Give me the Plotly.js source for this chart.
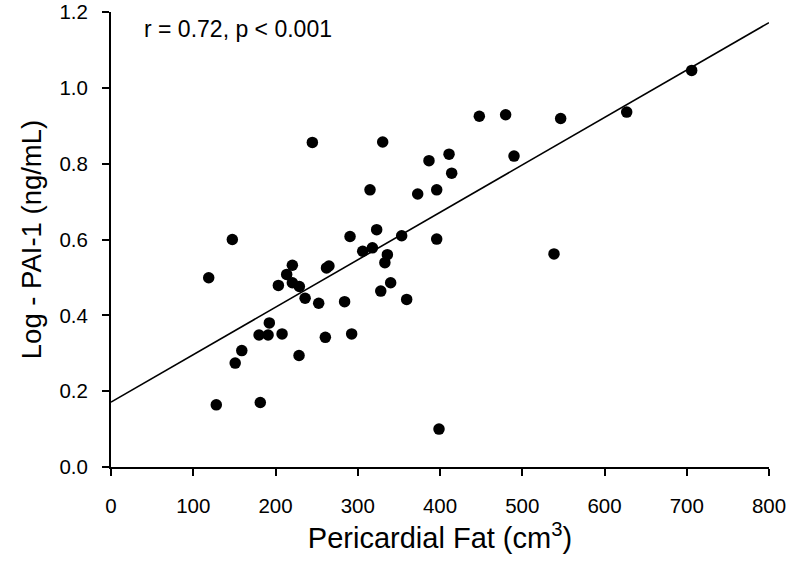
<!DOCTYPE html>
<html>
<head>
<meta charset="utf-8">
<script src="https://cdn.plot.ly/plotly-3.0.1.min.js"></script>
<style>html,body{margin:0;padding:0;background:#fff;}#chart{width:792px;height:570px;}</style>
</head>
<body>
<div id="chart"></div>
<script>
// Pericardial fat volume (cm3)
var fatVolume = [118.8, 128, 147.5, 151, 159, 180, 181.5, 191, 192.5, 203.5,
  208, 213.6, 220.5, 220.5, 228.6, 229, 236, 244.8, 252.5, 260.6,
  262, 265, 284, 290.6, 292.6, 306, 314.9, 317.8, 323, 328,
  330.3, 333, 336, 340, 353.4, 359.5, 372.9, 386.6, 396, 396,
  398.8, 411, 414.2, 447.8, 479.8, 490, 538.6, 546.7, 627, 706];
// Log PAI-1 (ng/mL)
var logPAI1 = [0.499, 0.164, 0.600, 0.274, 0.307, 0.348, 0.170, 0.348, 0.380, 0.479,
  0.351, 0.508, 0.532, 0.486, 0.294, 0.476, 0.445, 0.856, 0.432, 0.342,
  0.525, 0.530, 0.436, 0.608, 0.351, 0.569, 0.731, 0.578, 0.626, 0.464,
  0.857, 0.539, 0.560, 0.486, 0.610, 0.442, 0.720, 0.808, 0.731, 0.601,
  0.100, 0.825, 0.775, 0.925, 0.929, 0.820, 0.562, 0.919, 0.936, 1.046];
// Regression line end points
var fitX = [0, 800];
var fitY = [0.171, 1.172];
var xTicks = [0, 100, 200, 300, 400, 500, 600, 700, 800];
var yTicks = [0.0, 0.2, 0.4, 0.6, 0.8, 1.0, 1.2];
var statsText = 'r = 0.72, p < 0.001';

var fontFam = 'Arial, "Liberation Sans", sans-serif';

var traces = [
  {x: fitX, y: fitY, type: 'scatter', mode: 'lines', line: {color: '#000', width: 1.6}, hoverinfo: 'skip', cliponaxis: false},
  {x: fatVolume, y: logPAI1, type: 'scatter', mode: 'markers',
   marker: {symbol: 'circle', size: 11.5, color: '#000'}}
];

var layout = {
  width: 792, height: 570,
  margin: {l: 111, r: 23, t: 11.5, b: 103},
  paper_bgcolor: '#fff', plot_bgcolor: '#fff',
  showlegend: false,
  font: {family: fontFam, color: '#000'},
  xaxis: {
    range: [0, 800], tickvals: xTicks, ticktext: xTicks.map(String),
    showgrid: false, zeroline: false,
    showline: true, linecolor: '#000', linewidth: 2,
    ticks: 'outside', ticklen: 7, tickwidth: 2, tickcolor: '#000',
    tickfont: {size: 20.5, family: fontFam},
    ticklabelstandoff: 12, ticklabeloverflow: 'allow',
    title: {text: 'Pericardial Fat (cm<sup>3</sup>)', font: {size: 29, family: fontFam}, standoff: 12}
  },
  yaxis: {
    range: [0, 1.2], tickvals: yTicks, ticktext: yTicks.map(function(v){return v.toFixed(1);}),
    showgrid: false, zeroline: false,
    showline: true, linecolor: '#000', linewidth: 2,
    ticks: 'outside', ticklen: 7, tickwidth: 2, tickcolor: '#000',
    tickfont: {size: 20.5, family: fontFam},
    ticklabelstandoff: 10, ticklabeloverflow: 'allow',
    title: {text: 'Log - PAI-1 (ng/mL)', font: {size: 27.5, family: fontFam}, standoff: 10}
  },
  annotations: [{
    text: statsText, xref: 'paper', yref: 'paper', x: 0.047, y: 0.962,
    xanchor: 'left', yanchor: 'middle', showarrow: false,
    font: {size: 23, family: fontFam, color: '#000'}
  }]
};

Plotly.newPlot('chart', traces, layout, {displayModeBar: false, staticPlot: true});
</script>
</body>
</html>
